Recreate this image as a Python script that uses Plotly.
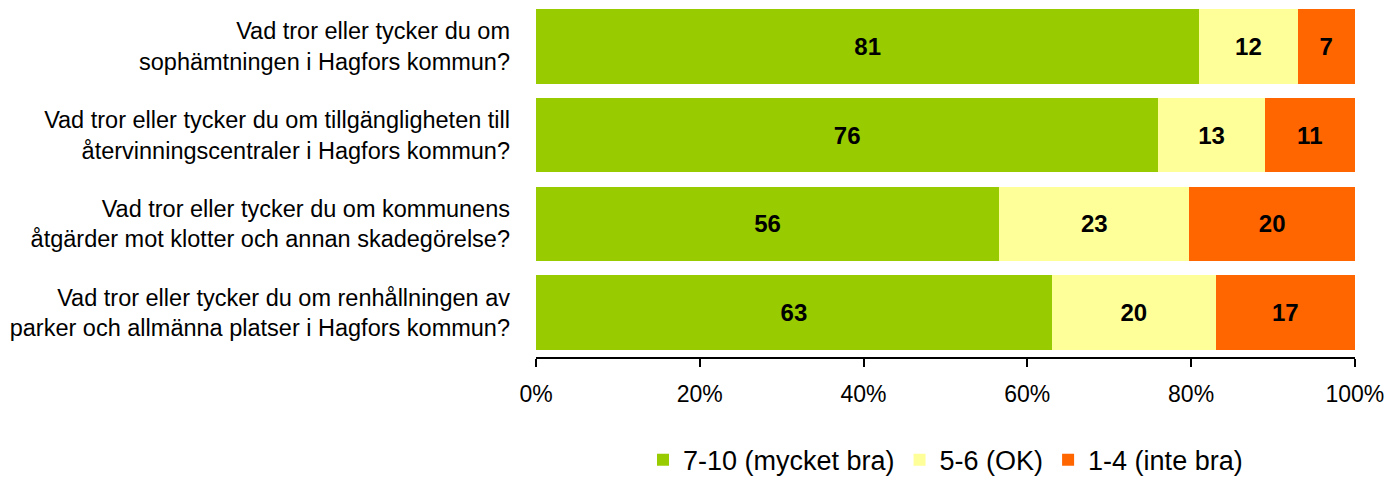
import plotly.graph_objects as go

categories = [
    "Vad tror eller tycker du om<br>sophämtningen i Hagfors kommun?",
    "Vad tror eller tycker du om tillgängligheten till<br>återvinningscentraler i Hagfors kommun?",
    "Vad tror eller tycker du om kommunens<br>åtgärder mot klotter och annan skadegörelse?",
    "Vad tror eller tycker du om renhållningen av<br>parker och allmänna platser i Hagfors kommun?",
]
series_names = ["7-10 (mycket bra)", "5-6 (OK)", "1-4 (inte bra)"]
good = [81, 76, 56, 63]
ok = [12, 13, 23, 20]
bad = [7, 11, 20, 17]
colors = ["#99CC00", "#FFFF99", "#FF6600"]
tick_vals = [0, 20, 40, 60, 80, 100]
tick_text = ["0%", "20%", "40%", "60%", "80%", "100%"]

FONT = "Liberation Sans, Arial"

fig = go.Figure()
for name, vals, col in zip(series_names, [good, ok, bad], colors):
    fig.add_trace(go.Bar(
        y=categories, x=vals, name=name, orientation="h",
        marker=dict(color=col, line=dict(width=0)),
        text=vals, texttemplate="%{text}", textposition="inside",
        insidetextanchor="middle", constraintext="none",
        textfont=dict(family=FONT, size=24, color="black", weight="bold"),
        cliponaxis=False,
    ))

fig.update_layout(
    barmode="stack", barnorm="percent", bargap=0.16,
    width=1389, height=482,
    margin=dict(l=536, r=34, t=2, b=125, autoexpand=False),
    paper_bgcolor="white", plot_bgcolor="white",
    font=dict(family=FONT, size=23, color="black"),
    legend=dict(orientation="h", x=0.5, xanchor="center",
                yref="container", y=0.045, yanchor="middle",
                font=dict(size=27), traceorder="normal", itemwidth=30),
    showlegend=True,
)
fig.update_xaxes(range=[0, 100.02], tickvals=tick_vals, ticktext=tick_text,
                 showgrid=False, zeroline=False, showline=True, linecolor="black",
                 linewidth=1.5, ticks="outside", ticklen=8, tickcolor="black", tickwidth=1.5,
                 tickfont=dict(size=23), ticklabelstandoff=8)
fig.update_yaxes(autorange="reversed", showgrid=False, showline=False, ticks="",
                 tickfont=dict(size=23.5), ticklabelstandoff=25)

fig.write_html("out.html", config={"displayModeBar": False},
               post_script="document.body.style.margin='0';")
